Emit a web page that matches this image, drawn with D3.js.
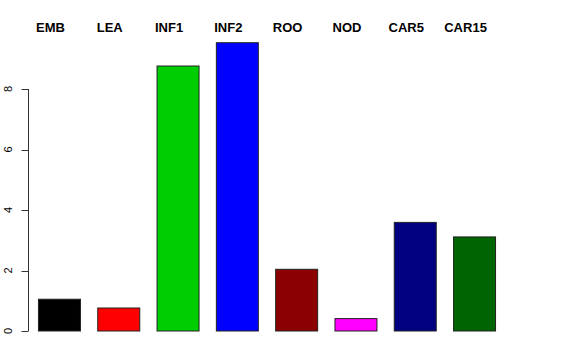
<!DOCTYPE html>
<html lang="en">
<head>
  <meta charset="UTF-8">
  <title>Barplot</title>
  <script src="https://d3js.org/d3.v7.min.js"></script>
  <style>
    body { margin: 0; background: white; }
    svg { display: block; font-family: "Liberation Sans", Arial, sans-serif; }
  </style>
</head>
<body>
<svg width="576" height="360"></svg>
<script>
  const categories = ["EMB", "LEA", "INF1", "INF2", "ROO", "NOD", "CAR5", "CAR15"];
  const values = [1.05, 0.76, 8.76, 9.53, 2.04, 0.41, 3.59, 3.11];
  const colors = ["#000000", "#FF0000", "#00CD00", "#0000FF", "#8B0000", "#FF00FF", "#000080", "#006400"];
  const yTicks = [0, 2, 4, 6, 8];

  const svg = d3.select("svg");

  const x = d3.scaleBand()
    .domain(categories)
    .range([29.3, 503.7])
    .paddingInner(0.292)
    .paddingOuter(0.146);

  const y = d3.scaleLinear()
    .domain([0, 8])
    .range([331, 89]);

  // bars
  svg.selectAll("rect.bar")
    .data(categories)
    .enter()
    .append("rect")
    .attr("class", "bar")
    .attr("x", d => x(d) + 0.5)
    .attr("y", (d, i) => y(values[i]))
    .attr("width", x.bandwidth())
    .attr("height", (d, i) => y(0) - y(values[i]))
    .attr("fill", (d, i) => colors[i])
    .attr("stroke", "#222")
    .attr("stroke-width", 1);

  // y axis, R style
  const axis = svg.append("g").attr("transform", "translate(28.5,0)");
  axis.append("line")
    .attr("x1", 0).attr("x2", 0)
    .attr("y1", y(0)).attr("y2", y(8))
    .attr("stroke", "#333");
  axis.selectAll("line.tick")
    .data(yTicks)
    .enter()
    .append("line")
    .attr("class", "tick")
    .attr("x1", 0).attr("x2", -7)
    .attr("y1", d => Math.round(y(d)) + 0.5)
    .attr("y2", d => Math.round(y(d)) + 0.5)
    .attr("stroke", "#333");
  axis.selectAll("text")
    .data(yTicks)
    .enter()
    .append("text")
    .attr("transform", d => `translate(-17,${y(d)}) rotate(-90)`)
    .attr("text-anchor", "middle")
    .attr("font-size", 11)
    .text(d => d);

  // category labels on top
  svg.selectAll("text.cat")
    .data(categories)
    .enter()
    .append("text")
    .attr("class", "cat")
    .attr("x", d => x(d) + x.bandwidth() / 2 - 8.5)
    .attr("y", 32)
    .attr("text-anchor", "middle")
    .attr("font-size", 13)
    .attr("font-weight", "bold")
    .text(d => d);
</script>
</body>
</html>
